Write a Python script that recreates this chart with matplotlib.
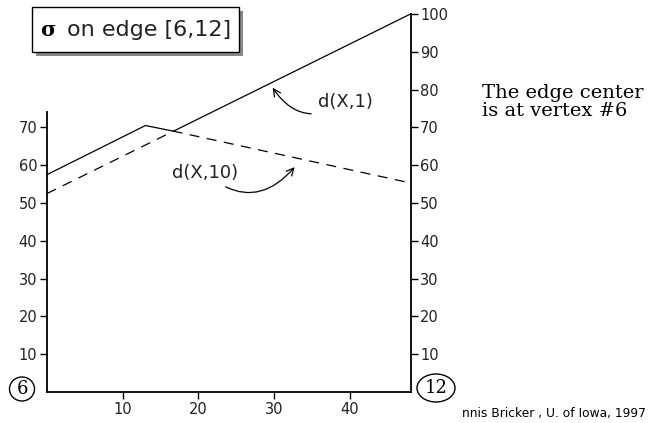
import matplotlib.pyplot as plt
from matplotlib.patches import Rectangle, Ellipse

# piecewise lines (x along edge, y = distance)
d1_x = [0, 13, 16.7, 48]
d1_y = [57.5, 70.5, 69, 100]
d10_x = [0, 16.7, 48]
d10_y = [52.5, 69, 55.3]

x_ticks = [10, 20, 30, 40]
left_ticks = [10, 20, 30, 40, 50, 60, 70]
right_ticks = [10, 20, 30, 40, 50, 60, 70, 80, 90, 100]

W, H = 662, 423
fig = plt.figure(figsize=(W / 100, H / 100), dpi=100)
ax = fig.add_axes([47 / W, 31 / H, 363.5 / W, 378 / H])
ax.set_xlim(0, 48)
ax.set_ylim(0, 100)

ax.plot(d1_x, d1_y, color="black", lw=0.9, clip_on=False)
ax.plot(d10_x, d10_y, color="black", lw=0.9, dashes=(8, 6), clip_on=False)

for s in ["top", "right"]:
    ax.spines[s].set_visible(False)
ax.spines["left"].set_bounds(0, 74)
ax.spines["left"].set_linewidth(1.3)
ax.spines["bottom"].set_linewidth(1.3)
ax.set_xticks(x_ticks)
ax.set_yticks(left_ticks)
ax.tick_params(direction="out", length=5, width=1, labelsize=10.5, pad=2,
               labelcolor="#222222")

ax2 = ax.twinx()
ax2.set_ylim(0, 100)
for s in ["top", "left", "bottom"]:
    ax2.spines[s].set_visible(False)
ax2.spines["right"].set_bounds(0, 100)
ax2.spines["right"].set_linewidth(1.3)
ax2.set_yticks(right_ticks)
ax2.tick_params(direction="out", length=5, width=1, labelsize=10.5, pad=2,
                labelcolor="#222222")

# curly arrows
ax.annotate("d(X,1)", xy=(29.8, 80.5), xytext=(35.8, 76.7), fontsize=13,
            va="center", ha="left", color="#222222",
            arrowprops=dict(arrowstyle="->", lw=0.9, color="black",
                            connectionstyle="arc3,rad=-0.5",
                            shrinkA=3, shrinkB=0))
ax.annotate("d(X,10)", xy=(32.7, 59.5), xytext=(25.3, 57.9), fontsize=13,
            va="center", ha="right", color="#222222",
            arrowprops=dict(arrowstyle="->", lw=0.9, color="black",
                            connectionstyle="arc3,rad=0.5",
                            shrinkA=3, shrinkB=0))

# title box with shadow
fig.patches.append(Rectangle((36 / W, 1 - 56 / H), 207 / W, 45 / H,
                             transform=fig.transFigure, facecolor="#888888",
                             edgecolor="none", zorder=1))
fig.patches.append(Rectangle((32 / W, 1 - 52 / H), 207 / W, 45 / H,
                             transform=fig.transFigure, facecolor="white",
                             edgecolor="black", lw=1, zorder=2))
fig.text(40 / W, 1 - 30 / H, "σ", fontsize=15, fontweight="bold",
         family="DejaVu Serif", va="center", zorder=3)
fig.text(67 / W, 1 - 30 / H, "on edge [6,12]", fontsize=16, va="center",
         color="#222222", zorder=3)

# vertex markers
fig.text(22 / W, 1 - 389 / H, "6", fontsize=13, family="DejaVu Serif",
         ha="center", va="center")
fig.patches.append(Ellipse((22 / W, 1 - 389 / H), 25 / W, 24 / H,
                           transform=fig.transFigure, fill=False,
                           edgecolor="black", lw=1))
fig.text(436 / W, 1 - 388 / H, "12", fontsize=13, family="DejaVu Serif",
         ha="center", va="center")
fig.patches.append(Ellipse((436 / W, 1 - 388 / H), 38 / W, 28 / H,
                           transform=fig.transFigure, fill=False,
                           edgecolor="black", lw=1))

fig.text(482 / W, 1 - 102 / H, "The edge center\nis at vertex #6", fontsize=14,
         family="DejaVu Serif", va="center", ha="left", linespacing=0.95)
fig.text(462 / W, 1 - 413 / H, "nnis Bricker , U. of Iowa, 1997", fontsize=8.8,
         va="center", ha="left")

fig.savefig("out.png", dpi=100)
